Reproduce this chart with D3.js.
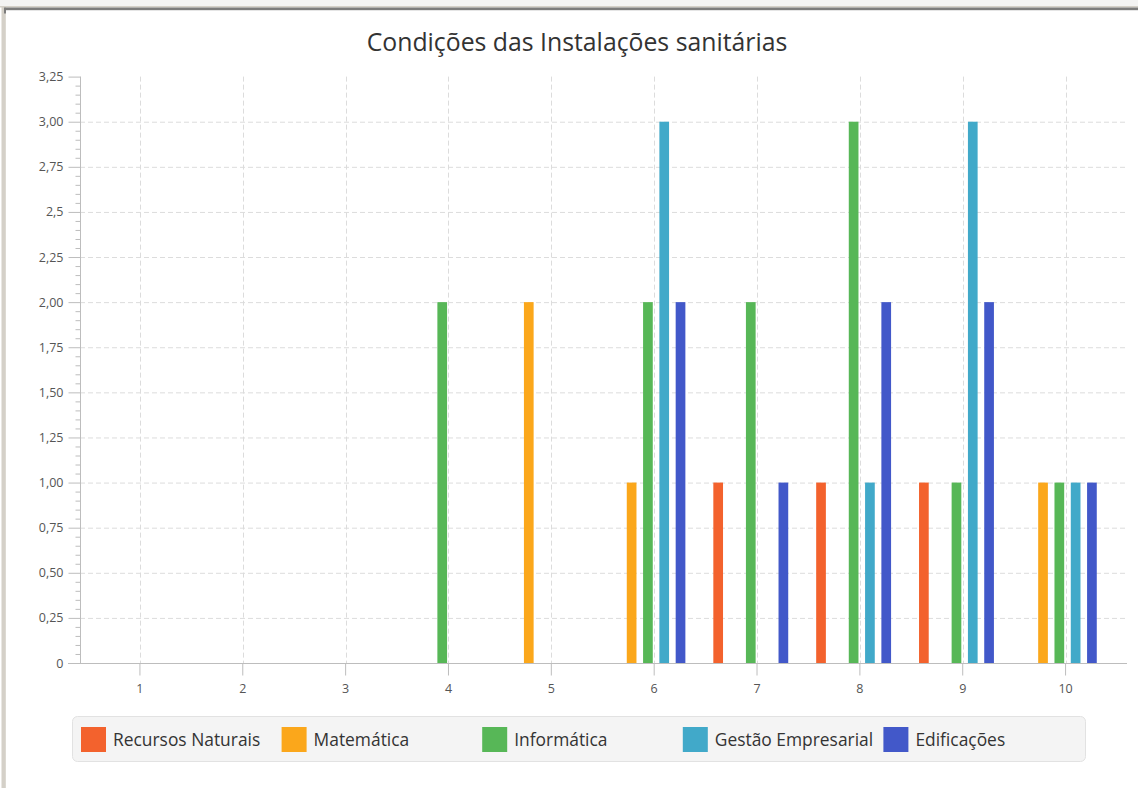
<!DOCTYPE html>
<html>
<head>
<meta charset="utf-8">
<script src="https://cdn.jsdelivr.net/npm/d3@7"></script>
<style>
  html, body { margin: 0; padding: 0; background: #ffffff; }
  svg { display: block; }
  text { font-family: "Open Sans", "Noto Sans", sans-serif; }
</style>
</head>
<body>
<svg id="chart" width="1138" height="788"></svg>
<script>
// ---- data ----
const title = "Condições das Instalações sanitárias";
const categories = ["1", "2", "3", "4", "5", "6", "7", "8", "9", "10"];
const seriesNames = ["Recursos Naturais", "Matemática", "Informática", "Gestão Empresarial", "Edificações"];
const recursosNaturais  = [0, 0, 0, 0, 0, 0, 1, 1, 1, 0];
const matematica        = [0, 0, 0, 0, 2, 1, 0, 0, 0, 1];
const informatica       = [0, 0, 0, 2, 0, 2, 2, 3, 1, 1];
const gestaoEmpresarial = [0, 0, 0, 0, 0, 3, 0, 1, 3, 1];
const edificacoes       = [0, 0, 0, 0, 0, 2, 1, 2, 2, 1];
const yTickValues = [0, 0.25, 0.5, 0.75, 1, 1.25, 1.5, 1.75, 2, 2.25, 2.5, 2.75, 3, 3.25];
const yTickLabels = ["0", "0,25", "0,50", "0,75", "1,00", "1,25", "1,50", "1,75", "2,00", "2,25", "2,5", "2,75", "3,00", "3,25"];
const seriesColors = ["#f3622d", "#fba71b", "#57b757", "#41a9c9", "#4258c9"];

const seriesValues = [recursosNaturais, matematica, informatica, gestaoEmpresarial, edificacoes];

// ---- layout ----
const svg = d3.select("#chart");
const plot = { left: 80, right: 1127, top: 76.6, bottom: 663 };

// window frame
svg.append("rect").attr("x", 0).attr("y", 0).attr("width", 1138).attr("height", 6).attr("fill", "#f3f3f3");
svg.append("rect").attr("x", 0).attr("y", 6).attr("width", 1138).attr("height", 1.5).attr("fill", "#d4d0c8");
svg.append("rect").attr("x", 4).attr("y", 7.5).attr("width", 1134).attr("height", 2.7).attr("fill", "#7c7c7c");
svg.append("rect").attr("x", 1.5).attr("y", 7).attr("width", 4.3).attr("height", 781).attr("fill", "#d4d0c8");
svg.append("rect").attr("x", 4).attr("y", 7.5).attr("width", 2).attr("height", 6).attr("fill", "#7c7c7c");

const x = d3.scaleBand().domain(categories).range([88.5, 1117]).padding(0);
const xs = d3.scaleBand().domain(seriesNames).range([-43.7, 31.2]).paddingInner(0.405).paddingOuter(0);
const y = d3.scaleLinear().domain([0, 3.25]).range([plot.bottom, plot.top]);
const color = d3.scaleOrdinal().domain(seriesNames).range(seriesColors);

// title
svg.append("text")
  .attr("x", 577).attr("y", 51)
  .attr("text-anchor", "middle")
  .attr("font-size", 24.8)
  .attr("fill", "#333333")
  .text(title);

// grid lines
const grid = svg.append("g");
grid.selectAll("line.h").data(yTickValues.filter(v => v > 0 && v < 3.25)).join("line")
  .attr("class", "h")
  .attr("x1", plot.left).attr("x2", plot.right)
  .attr("y1", d => y(d) + 0.5).attr("y2", d => y(d) + 0.5)
  .attr("stroke", "#dcdcdc").attr("stroke-width", 1).attr("stroke-dasharray", "5,3");
grid.selectAll("line.v").data(categories).join("line")
  .attr("class", "v")
  .attr("x1", d => Math.round(x(d) + x.bandwidth() / 2) + 0.5)
  .attr("x2", d => Math.round(x(d) + x.bandwidth() / 2) + 0.5)
  .attr("y1", plot.top).attr("y2", plot.bottom)
  .attr("stroke", "#dcdcdc").attr("stroke-width", 1).attr("stroke-dasharray", "5,3");

// bars
const barData = [];
seriesNames.forEach((s, si) => {
  categories.forEach((c, ci) => {
    const v = seriesValues[si][ci];
    if (v > 0) barData.push({ series: s, cat: c, value: v });
  });
});
svg.append("g").selectAll("rect").data(barData).join("rect")
  .attr("x", d => x(d.cat) + x.bandwidth() / 2 + xs(d.series))
  .attr("width", xs.bandwidth())
  .attr("y", d => y(d.value))
  .attr("height", d => y(0) - y(d.value))
  .attr("fill", d => color(d.series));

// y axis (minor ticks)
const axisColor = "#bdbdbd";
const minorVals = d3.range(0, 66).map(i => i * 0.05).filter(v => !yTickValues.some(t => Math.abs(t - v) < 1e-6));
const yMinor = svg.append("g").attr("transform", `translate(${plot.left + 0.5},0)`)
  .call(d3.axisLeft(y).tickValues(minorVals).tickSize(5).tickFormat(""));
yMinor.select(".domain").remove();
yMinor.selectAll(".tick line").attr("stroke", axisColor);

// y axis (major)
const yAxis = svg.append("g").attr("transform", `translate(${plot.left + 0.5},0)`)
  .call(d3.axisLeft(y).tickValues(yTickValues).tickSize(12).tickPadding(5)
    .tickFormat((d, i) => yTickLabels[i]));
yAxis.select(".domain").remove();
yAxis.selectAll(".tick line").attr("stroke", axisColor);
yAxis.selectAll(".tick text").attr("font-size", 12.5).attr("fill", "#555555")
  .style("font-family", "'Open Sans', 'Noto Sans', sans-serif");
svg.append("line").attr("x1", plot.left + 0.5).attr("x2", plot.left + 0.5)
  .attr("y1", plot.top).attr("y2", plot.bottom)
  .attr("stroke", axisColor);

// x axis
const xAxis = svg.append("g").attr("transform", `translate(0,${plot.bottom + 0.5})`)
  .call(d3.axisBottom(x).tickSize(12).tickPadding(9));
xAxis.select(".domain").remove();
xAxis.selectAll(".tick line").attr("stroke", axisColor);
xAxis.selectAll(".tick text").attr("font-size", 12.5).attr("fill", "#555555")
  .style("font-family", "'Open Sans', 'Noto Sans', sans-serif");
svg.append("line").attr("x1", plot.left - 12).attr("x2", plot.right)
  .attr("y1", plot.bottom + 0.5).attr("y2", plot.bottom + 0.5)
  .attr("stroke", axisColor);

// legend
const legend = svg.append("g");
legend.append("rect")
  .attr("x", 72.5).attr("y", 716.5).attr("width", 1013).attr("height", 45)
  .attr("rx", 5).attr("ry", 5)
  .attr("fill", "#f4f4f4").attr("stroke", "#e2e2e2");
const lx = d3.scaleBand().domain(seriesNames).range([81, 81 + 200.6 * 5]);
const item = legend.selectAll("g.item").data(seriesNames).join("g")
  .attr("class", "item")
  .attr("transform", d => `translate(${lx(d)},727)`);
item.append("rect").attr("width", 25).attr("height", 25).attr("fill", d => color(d));
item.append("text").attr("x", 32).attr("y", 13).attr("dy", "0.35em")
  .attr("font-size", 17.4).attr("fill", "#333333")
  .text(d => d);
</script>
</body>
</html>
